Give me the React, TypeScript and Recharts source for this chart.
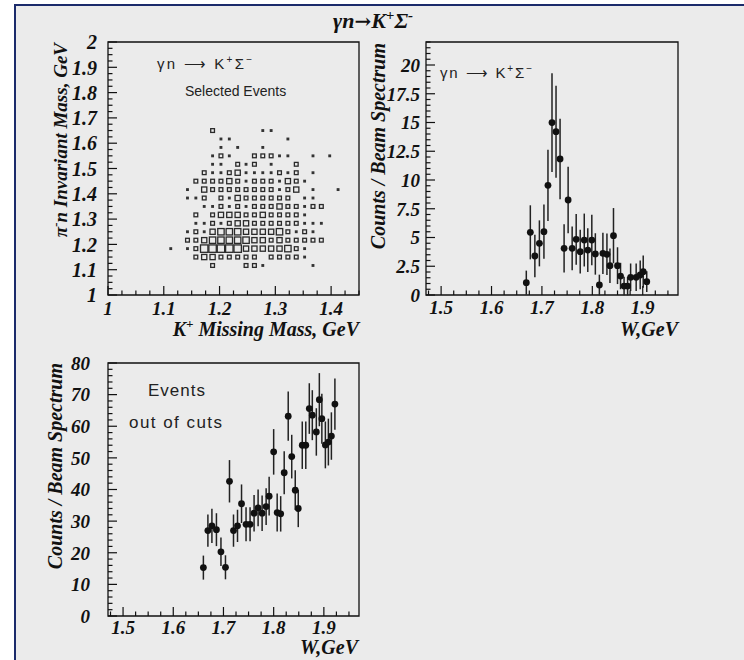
import React from 'react';
import { ScatterChart, Scatter, XAxis, YAxis, ErrorBar, ReferenceArea } from 'recharts';

// ─── Data ─────────────────────────────────────────────────────────────────────

// top-left: 2D box histogram, K+ missing mass (x) vs pi-n invariant mass (y)
const MASS_X_MIN = 1;
const MASS_X_BIN = 0.015;
const MASS_FIRST_COL = 7;
const MASS_Y_MIN = 1;
const MASS_Y_BIN = 1 / 30;
const MASS_TOP_ROW = 19;
const MASS_MAX_COUNT = 9;
// rows from 1.65 GeV down to 1.117 GeV, columns from 1.1125 GeV to 1.4125 GeV
const MASS_COUNTS = [
  [0, 0, 0, 0, 0, 3, 0, 0, 0, 0, 0, 1, 1, 0, 0, 0, 0, 0, 0, 0, 0],
  [0, 0, 0, 0, 0, 0, 1, 1, 0, 0, 0, 0, 0, 0, 1, 0, 0, 0, 0, 0, 0],
  [0, 0, 0, 0, 0, 0, 1, 0, 1, 0, 0, 1, 0, 0, 0, 0, 0, 0, 0, 0, 0],
  [0, 0, 0, 0, 0, 1, 3, 1, 0, 0, 3, 3, 3, 1, 1, 0, 0, 1, 0, 1, 0],
  [0, 0, 0, 0, 0, 1, 1, 0, 3, 1, 3, 0, 1, 0, 0, 3, 0, 0, 0, 0, 0],
  [0, 0, 0, 0, 3, 1, 1, 3, 5, 1, 1, 1, 1, 3, 1, 3, 0, 1, 0, 0, 0],
  [0, 0, 0, 3, 3, 3, 3, 5, 3, 1, 3, 3, 3, 1, 5, 3, 1, 0, 0, 0, 0],
  [0, 0, 1, 0, 5, 3, 3, 3, 3, 3, 3, 3, 3, 1, 3, 5, 0, 1, 0, 0, 1],
  [0, 0, 1, 1, 3, 0, 3, 1, 5, 3, 3, 3, 3, 3, 3, 0, 1, 1, 0, 0, 0],
  [0, 0, 0, 0, 1, 1, 3, 1, 3, 1, 3, 3, 3, 5, 3, 3, 1, 3, 3, 0, 0],
  [0, 0, 0, 3, 0, 3, 5, 5, 5, 3, 3, 5, 3, 3, 3, 3, 1, 0, 0, 0, 0],
  [0, 0, 0, 1, 1, 3, 1, 3, 5, 5, 3, 3, 3, 3, 3, 3, 1, 1, 1, 0, 0],
  [0, 0, 1, 3, 1, 5, 7, 7, 7, 5, 5, 5, 5, 7, 3, 1, 3, 1, 0, 0, 0],
  [0, 0, 3, 3, 5, 7, 7, 7, 7, 7, 5, 5, 3, 5, 3, 3, 3, 3, 3, 0, 0],
  [1, 0, 1, 3, 9, 9, 9, 9, 9, 5, 5, 5, 5, 5, 7, 3, 1, 0, 0, 0, 0],
  [0, 0, 0, 3, 5, 5, 3, 3, 3, 3, 3, 0, 3, 3, 3, 3, 1, 0, 0, 0, 0],
  [0, 0, 0, 0, 0, 3, 0, 0, 0, 3, 3, 1, 0, 0, 0, 0, 0, 1, 0, 0, 0],
];

// top-right: selected events
const SEL_W = [1.669, 1.677, 1.686, 1.695, 1.704, 1.712, 1.72, 1.728, 1.736, 1.744, 1.752, 1.76, 1.768, 1.776, 1.784, 1.791, 1.799, 1.806, 1.814, 1.821, 1.829, 1.835, 1.842, 1.85, 1.856, 1.863, 1.87, 1.876, 1.887, 1.895, 1.901, 1.908];
const SEL_Y = [1.07, 5.45, 3.39, 4.49, 5.51, 9.54, 14.99, 14.2, 11.83, 4.06, 8.26, 4.06, 4.84, 3.77, 4.78, 3.91, 4.78, 3.57, 0.87, 3.62, 3.54, 2.55, 5.16, 2.55, 1.65, 0.78, 0.78, 1.54, 1.54, 1.74, 2.03, 1.16];
const SEL_ERR = [1.05, 2.35, 1.85, 2.0, 2.35, 3.1, 4.3, 4.0, 3.5, 2.1, 2.9, 1.9, 2.2, 1.9, 2.3, 1.9, 2.2, 1.8, 0.9, 1.8, 1.8, 1.5, 2.4, 1.6, 1.15, 0.8, 0.8, 1.2, 1.2, 1.25, 1.4, 0.9];

// bottom-left: events out of cuts
const OUT_W = [1.66, 1.669, 1.677, 1.686, 1.695, 1.704, 1.712, 1.72, 1.728, 1.736, 1.745, 1.753, 1.761, 1.769, 1.777, 1.785, 1.791, 1.8, 1.807, 1.814, 1.821, 1.829, 1.836, 1.843, 1.849, 1.857, 1.864, 1.871, 1.877, 1.885, 1.891, 1.896, 1.903, 1.909, 1.915, 1.922];
const OUT_Y = [15.3, 27.0, 28.5, 27.3, 20.3, 15.4, 42.6, 27.0, 28.5, 35.5, 29.0, 29.0, 32.5, 34.2, 32.5, 34.6, 37.9, 51.9, 32.7, 32.3, 45.3, 63.2, 50.4, 39.8, 34.0, 54.0, 54.0, 65.6, 63.5, 58.2, 68.4, 62.4, 54.1, 55.0, 56.9, 67.0];
const OUT_ERR = [3.8, 5.1, 5.4, 5.2, 4.5, 3.8, 6.7, 5.1, 5.1, 6.1, 5.4, 5.4, 5.8, 5.8, 5.6, 5.8, 6.1, 7.2, 6.0, 5.6, 6.8, 7.8, 6.9, 6.3, 5.9, 7.5, 7.5, 8.0, 7.9, 7.5, 8.4, 7.9, 7.4, 7.4, 7.5, 8.1];

// axes
const MASS_X_DOMAIN = [1, 1.45];
const MASS_Y_DOMAIN = [1, 2];
const MASS_X_MAJOR = [1, 1.1, 1.2, 1.3, 1.4];
const MASS_Y_MAJOR = [1, 1.1, 1.2, 1.3, 1.4, 1.5, 1.6, 1.7, 1.8, 1.9, 2];
const W_DOMAIN = [1.47, 1.97];
const W_MAJOR = [1.5, 1.6, 1.7, 1.8, 1.9];
const SEL_Y_DOMAIN = [0, 22];
const SEL_Y_MAJOR = [0, 2.5, 5, 7.5, 10, 12.5, 15, 17.5, 20];
const OUT_Y_DOMAIN = [0, 80];
const OUT_Y_MAJOR = [0, 10, 20, 30, 40, 50, 60, 70, 80];

// ─── Styles ───────────────────────────────────────────────────────────────────

const SERIF = '"Liberation Serif", "Times New Roman", Times, serif';
const SANS = '"Liberation Sans", Arial, Helvetica, sans-serif';
const INK = '#111';
const FRAME_BG = '#ebebeb';
const BORDER = '#1b2b6b';
const BIN_PX = 8.6;

function steps(from: number, to: number, step: number) {
  const n = Math.round((to - from) / step);
  const out: number[] = [];
  for (let i = 0; i <= n; i++) out.push(Math.round((from + i * step) * 10000) / 10000);
  return out;
}

const massBoxes = MASS_COUNTS.flatMap((row, r) =>
  row
    .map((c, i) => ({
      x: MASS_X_MIN + (MASS_FIRST_COL + i + 0.5) * MASS_X_BIN,
      y: MASS_Y_MIN + (MASS_TOP_ROW - r + 0.5) * MASS_Y_BIN,
      c,
    }))
    .filter(d => d.c > 0),
);
const selPoints = SEL_W.map((w, i) => ({ x: w, y: SEL_Y[i], e: SEL_ERR[i] }));
const outPoints = OUT_W.map((w, i) => ({ x: w, y: OUT_Y[i], e: OUT_ERR[i] }));

// ROOT-style ticks: drawn inward, labels only on the major ones
const makeTick = (side: 'x' | 'y', majors: number[], size: number, gap: number) => (props: any) => {
  const { x, y, payload } = props;
  const v = payload.value as number;
  const major = majors.some(m => Math.abs(m - v) < 1e-6);
  const len = major ? 9 : 4.5;
  const label = {
    fontFamily: SERIF,
    fontWeight: 'bold' as const,
    fontStyle: 'italic' as const,
    fontSize: size,
    fill: INK,
  };
  if (side === 'x') {
    return (
      <g>
        <line x1={x} y1={y} x2={x} y2={y - len} stroke={INK} strokeWidth={1.2} />
        {major && <text x={x} y={y + gap} textAnchor="middle" {...label}>{v}</text>}
      </g>
    );
  }
  return (
    <g>
      <line x1={x} y1={y} x2={x + len} y2={y} stroke={INK} strokeWidth={1.2} />
      {major && <text x={x - gap} y={y} dy="0.36em" textAnchor="end" {...label}>{v}</text>}
    </g>
  );
};

const BoxShape = (p: any) => {
  const c = p.payload?.c ?? 1;
  const s = BIN_PX * Math.sqrt(c / MASS_MAX_COUNT);
  if (s < 4) return <rect x={p.cx - s / 2} y={p.cy - s / 2} width={s} height={s} fill="#333" />;
  return <rect x={p.cx - s / 2 + 0.6} y={p.cy - s / 2 + 0.6} width={s - 1.2} height={s - 1.2} fill="none" stroke="#2a2a2a" strokeWidth={1.3} />;
};

const Dot = (p: any) => <circle cx={p.cx} cy={p.cy} r={3.4} fill={INK} />;

// axes get 1px of room (a 0px axis is not drawn at all), margins take the rest
const axisCommon = {
  type: 'number' as const,
  interval: 0 as const,
  tickSize: 0,
  tickMargin: 0,
  tickLine: false,
  axisLine: false,
  allowDataOverflow: true,
};

// ─── Panels ───────────────────────────────────────────────────────────────────

function MassPanel() {
  return (
    <ScatterChart width={372} height={340} margin={{ top: 42, right: 13, bottom: 44, left: 107 }}>
      <XAxis {...axisCommon} dataKey="x" domain={MASS_X_DOMAIN} ticks={steps(1, 1.45, 0.025)} tick={makeTick('x', MASS_X_MAJOR, 19, 20)} height={1} />
      <YAxis {...axisCommon} dataKey="y" domain={MASS_Y_DOMAIN} ticks={steps(1, 2, 0.025)} tick={makeTick('y', MASS_Y_MAJOR, 20, 11)} width={1} />
      <ReferenceArea x1={1} x2={1.45} y1={1} y2={2} fill="none" fillOpacity={0} stroke={INK} strokeWidth={1.3} />
      <Scatter data={massBoxes} shape={BoxShape} isAnimationActive={false} />
    </ScatterChart>
  );
}

function SelectedPanel() {
  return (
    <ScatterChart width={372} height={340} margin={{ top: 42, right: 66, bottom: 44, left: 53 }}>
      <XAxis {...axisCommon} dataKey="x" domain={W_DOMAIN} ticks={steps(1.475, 1.95, 0.025)} tick={makeTick('x', W_MAJOR, 19, 19)} height={1} />
      <YAxis {...axisCommon} dataKey="y" domain={SEL_Y_DOMAIN} ticks={steps(0, 22, 0.5)} tick={makeTick('y', SEL_Y_MAJOR, 19, 6)} width={1} />
      <ReferenceArea x1={1.47} x2={1.97} y1={0} y2={22} fill="none" fillOpacity={0} stroke={INK} strokeWidth={1.3} />
      <Scatter data={selPoints} shape={Dot} isAnimationActive={false}>
        <ErrorBar dataKey="e" direction="y" width={0} stroke="#222" strokeWidth={1.5} isAnimationActive={false} />
      </Scatter>
    </ScatterChart>
  );
}

function OutOfCutsPanel() {
  return (
    <ScatterChart width={372} height={320} margin={{ top: 23, right: 13, bottom: 43, left: 107 }}>
      <XAxis {...axisCommon} dataKey="x" domain={W_DOMAIN} ticks={steps(1.475, 1.95, 0.025)} tick={makeTick('x', W_MAJOR, 19, 18)} height={1} />
      <YAxis {...axisCommon} dataKey="y" domain={OUT_Y_DOMAIN} ticks={steps(0, 80, 2)} tick={makeTick('y', OUT_Y_MAJOR, 19, 18)} width={1} />
      <ReferenceArea x1={1.47} x2={1.97} y1={0} y2={80} fill="none" fillOpacity={0} stroke={INK} strokeWidth={1.3} />
      <Scatter data={outPoints} shape={Dot} isAnimationActive={false}>
        <ErrorBar dataKey="e" direction="y" width={0} stroke="#222" strokeWidth={1.5} isAnimationActive={false} />
      </Scatter>
    </ScatterChart>
  );
}

// ─── Titles and captions ──────────────────────────────────────────────────────

const titleFont = { fontFamily: SERIF, fontWeight: 'bold' as const, fontStyle: 'italic' as const, fill: INK };
const noteFont = { fontFamily: SANS, fill: '#222' };

function Labels() {
  return (
    <svg width={744} height={660} style={{ position: 'absolute', left: 0, top: 0, pointerEvents: 'none' }}>
      <text x={373} y={28} textAnchor="middle" fontSize={22} {...titleFont}>
        γn<tspan fontFamily="DejaVu Serif" fontSize={20}>→</tspan>K<tspan dy={-8} fontSize={15}>+</tspan><tspan dy={8}>Σ</tspan><tspan dy={-8} fontSize={15}>-</tspan>
      </text>

      {/* top-left */}
      <text transform="translate(67,43) rotate(-90)" textAnchor="end" fontSize={19} {...titleFont}>
        π<tspan dy={-7} fontSize={13}>-</tspan><tspan dy={7}>n Invariant Mass, GeV</tspan>
      </text>
      <text x={359} y={336} textAnchor="end" fontSize={20} {...titleFont}>
        K<tspan dy={-8} fontSize={13}>+</tspan><tspan dy={8}> Missing Mass, GeV</tspan>
      </text>
      <text x={157} y={69} fontSize={15} textLength={95} lengthAdjust="spacing" {...noteFont}>
        γn ⟶ K<tspan dy={-6} fontSize={10}>+</tspan><tspan dy={6}>Σ</tspan><tspan dy={-6} fontSize={10}>−</tspan>
      </text>
      <text x={185} y={96} fontSize={14} {...noteFont}>Selected Events</text>

      {/* top-right */}
      <text transform="translate(385,43) rotate(-90)" textAnchor="end" fontSize={20} {...titleFont}>Counts / Beam Spectrum</text>
      <text x={678} y={336} textAnchor="end" fontSize={20} {...titleFont}>W,GeV</text>
      <text x={440} y={78} fontSize={15} textLength={92} lengthAdjust="spacing" {...noteFont}>
        γn ⟶ K<tspan dy={-6} fontSize={10}>+</tspan><tspan dy={6}>Σ</tspan><tspan dy={-6} fontSize={10}>−</tspan>
      </text>

      {/* bottom-left */}
      <text transform="translate(62,363) rotate(-90)" textAnchor="end" fontSize={20} {...titleFont}>Counts / Beam Spectrum</text>
      <text x={358} y={654} textAnchor="end" fontSize={20} {...titleFont}>W,GeV</text>
      <text x={148} y={396} fontSize={17} textLength={57} lengthAdjust="spacing" {...noteFont}>Events</text>
      <text x={129} y={428} fontSize={17} textLength={93} lengthAdjust="spacing" {...noteFont}>out of cuts</text>
    </svg>
  );
}

export default function App() {
  return (
    <div style={{ position: 'absolute', left: 0, top: 0, width: 744, height: 660, background: '#fff', overflow: 'hidden' }}>
      <div
        style={{
          position: 'absolute',
          left: 14,
          top: 4,
          width: 730,
          height: 656,
          boxSizing: 'border-box',
          background: FRAME_BG,
          borderLeft: `2px solid ${BORDER}`,
          borderTop: `2px solid ${BORDER}`,
        }}
      />
      <div style={{ position: 'absolute', left: 0, top: 0 }}><MassPanel /></div>
      <div style={{ position: 'absolute', left: 372, top: 0 }}><SelectedPanel /></div>
      <div style={{ position: 'absolute', left: 0, top: 340 }}><OutOfCutsPanel /></div>
      <Labels />
    </div>
  );
}
